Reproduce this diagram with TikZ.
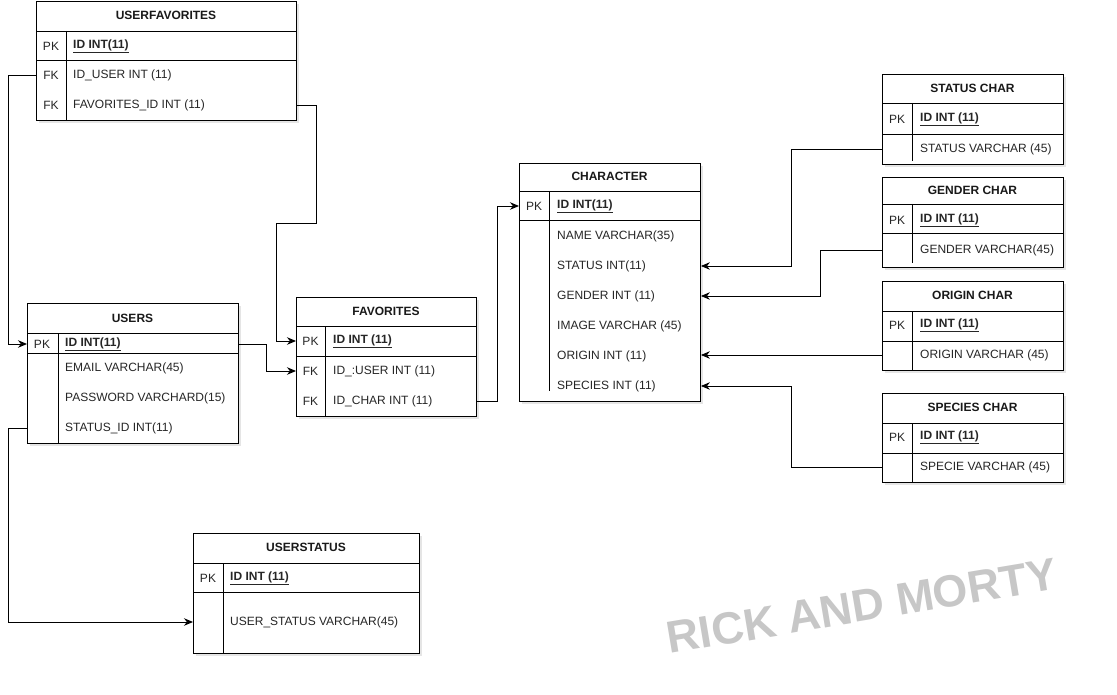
\documentclass[tikz,border=0pt]{standalone}
\usepackage{fontspec}
\setmainfont{Liberation Sans}
\usetikzlibrary{arrows.meta}
\newcommand{\fsz}{\fontsize{12}{14}\selectfont}
\tikzset{
  tblbox/.style={draw=black, line width=0.9pt, fill=white, inner sep=0pt, anchor=north west},
  tblline/.style={draw=black, line width=0.9pt},
  ttl/.style={font=\fsz\bfseries, text=black!90, inner sep=0pt},
  keyc/.style={font=\fsz, text=black!85, inner sep=0pt, yshift=-1pt},
  fld/.style={font=\fsz, text=black!85, inner sep=0pt, anchor=west, yshift=-1pt},
  pkfld/.style={fld, font=\fsz\bfseries},
  conn/.style={draw=black, line width=0.9pt, -{Stealth[length=9pt,width=7.5pt]}},
  wmark/.style={font=\fontsize{45}{45}\selectfont\bfseries, text=black!22, inner sep=0pt}
}
% #1 name, #2 x1, #3 x2, #4 top, #5 header bottom, #6 pk bottom, #7 bottom, #8 divider x, #9 divider end
\newcommand{\ertable}[9]{%
  \fill[black, opacity=0.10] (#2+3,#4+3) rectangle (#3+3,#7+3);
  \node[tblbox, minimum width={#3-#2}, minimum height={#7-#4}] (#1) at (#2,#4) {};
  \draw[tblline] (#2,#5) -- (#3,#5);
  \draw[tblline] (#2,#6) -- (#3,#6);
  \draw[tblline] (#8,#5) -- (#8,#9);
}
\begin{document}
\begin{tikzpicture}[x=1pt,y=-1pt]
\useasboundingbox (0,0) rectangle (1117,695);

% USERFAVORITES
\ertable{userfav}{36}{296}{1}{31}{60}{120}{66}{120}
\node[ttl] (uf-title) at (166,15.5) {USERFAVORITES};
\node[keyc] (uf-pk) at (51,45) {PK};
\node[pkfld] (uf-id) at (73,45) {\underline{ID INT(11)}};
\node[keyc] (uf-fk1) at (51,74) {FK};
\node[fld] (uf-user) at (73,74) {ID\_USER INT (11)};
\node[keyc] (uf-fk2) at (51,104) {FK};
\node[fld] (uf-fav) at (73,104) {FAVORITES\_ID INT (11)};

% USERS
\ertable{users}{27}{238}{303}{333}{353}{443}{58}{443}
\node[ttl] (us-title) at (132.5,318) {USERS};
\node[keyc] (us-pk) at (42,343) {PK};
\node[pkfld] (us-id) at (65,343) {\underline{ID INT(11)}};
\node[fld] (us-email) at (65,367) {EMAIL VARCHAR(45)};
\node[fld] (us-pass) at (65,397) {PASSWORD VARCHARD(15)};
\node[fld] (us-status) at (65,427) {STATUS\_ID INT(11)};

% FAVORITES
\ertable{favorites}{296}{476}{297}{326}{356}{416}{325}{416}
\node[ttl] (fv-title) at (386,311) {FAVORITES};
\node[keyc] (fv-pk) at (310.5,340) {PK};
\node[pkfld] (fv-id) at (333,340) {\underline{ID INT (11)}};
\node[keyc] (fv-fk1) at (310.5,370) {FK};
\node[fld] (fv-user) at (333,370) {ID\_:USER INT (11)};
\node[keyc] (fv-fk2) at (310.5,400) {FK};
\node[fld] (fv-char) at (333,400) {ID\_CHAR INT (11)};

% CHARACTER
\ertable{character}{519}{700}{163}{191}{220}{401}{549}{391}
\node[ttl] (ch-title) at (609.5,176) {CHARACTER};
\node[keyc] (ch-pk) at (534,205) {PK};
\node[pkfld] (ch-id) at (557,205) {\underline{ID INT(11)}};
\node[fld] (ch-name) at (557,235) {NAME VARCHAR(35)};
\node[fld] (ch-status) at (557,265) {STATUS INT(11)};
\node[fld] (ch-gender) at (557,295) {GENDER INT (11)};
\node[fld] (ch-image) at (557,325) {IMAGE VARCHAR (45)};
\node[fld] (ch-origin) at (557,355) {ORIGIN INT (11)};
\node[fld] (ch-species) at (557,385) {SPECIES INT (11)};

% STATUS CHAR
\ertable{statuschar}{882}{1063}{74}{103}{134}{164}{912}{161}
\node[ttl] (sc-title) at (972.5,88) {STATUS CHAR};
\node[keyc] (sc-pk) at (897,118) {PK};
\node[pkfld] (sc-id) at (920,118) {\underline{ID INT (11)}};
\node[fld] (sc-status) at (920,148) {STATUS VARCHAR (45)};

% GENDER CHAR
\ertable{genderchar}{882}{1063}{177}{204}{233}{267}{912}{263}
\node[ttl] (gc-title) at (972.5,190) {GENDER CHAR};
\node[keyc] (gc-pk) at (897,219) {PK};
\node[pkfld] (gc-id) at (920,219) {\underline{ID INT (11)}};
\node[fld] (gc-gender) at (920,249) {GENDER VARCHAR(45)};

% ORIGIN CHAR
\ertable{originchar}{882}{1063}{281}{311}{341}{370}{912}{370}
\node[ttl] (oc-title) at (972.5,295) {ORIGIN CHAR};
\node[keyc] (oc-pk) at (897,324) {PK};
\node[pkfld] (oc-id) at (920,324) {\underline{ID INT (11)}};
\node[fld] (oc-origin) at (920,354) {ORIGIN VARCHAR (45)};

% SPECIES CHAR
\ertable{specieschar}{882}{1063}{393}{423}{453}{482}{912}{482}
\node[ttl] (sp-title) at (972.5,407) {SPECIES CHAR};
\node[keyc] (sp-pk) at (897,436) {PK};
\node[pkfld] (sp-id) at (920,436) {\underline{ID INT (11)}};
\node[fld] (sp-specie) at (920,466) {SPECIE VARCHAR (45)};

% USERSTATUS
\ertable{userstatus}{193}{419}{533}{563}{592}{653}{223}{653}
\node[ttl] (ust-title) at (306,547) {USERSTATUS};
\node[keyc] (ust-pk) at (208,577) {PK};
\node[pkfld] (ust-id) at (230,577) {\underline{ID INT (11)}};
\node[fld] (ust-status) at (230,621) {USER\_STATUS VARCHAR(45)};

% Connectors
\draw[conn] (uf-user -| userfav.west) -- ++(-28,0) |- (us-id -| users.west);
\draw[conn] (uf-fav -| userfav.east) -- ++(20,0) -- ++(0,118) -- ++(-40,0) |- (fv-id -| favorites.west);
\draw[conn] (us-id -| users.east) -- ++(28,0) |- (fv-user -| favorites.west);
\draw[conn] (fv-char -| favorites.east) -- ++(21,0) |- (ch-id -| character.west);
\draw[conn] (us-status -| users.west) -- ++(-19,0) |- (ust-status -| userstatus.west);
\draw[conn] (sc-status -| statuschar.west) -- ++(-91,0) |- (ch-status -| character.east);
\draw[conn] (gc-gender -| genderchar.west) -- ++(-62,0) |- (ch-gender -| character.east);
\draw[conn] (oc-origin -| originchar.west) -- (oc-origin -| character.east);
\draw[conn] (sp-specie -| specieschar.west) -- ++(-91,0) |- (ch-species -| character.east);

% Watermark
\node[wmark, rotate=9.5] (wm) at (862,606) {RICK AND MORTY};
\end{tikzpicture}
\end{document}
